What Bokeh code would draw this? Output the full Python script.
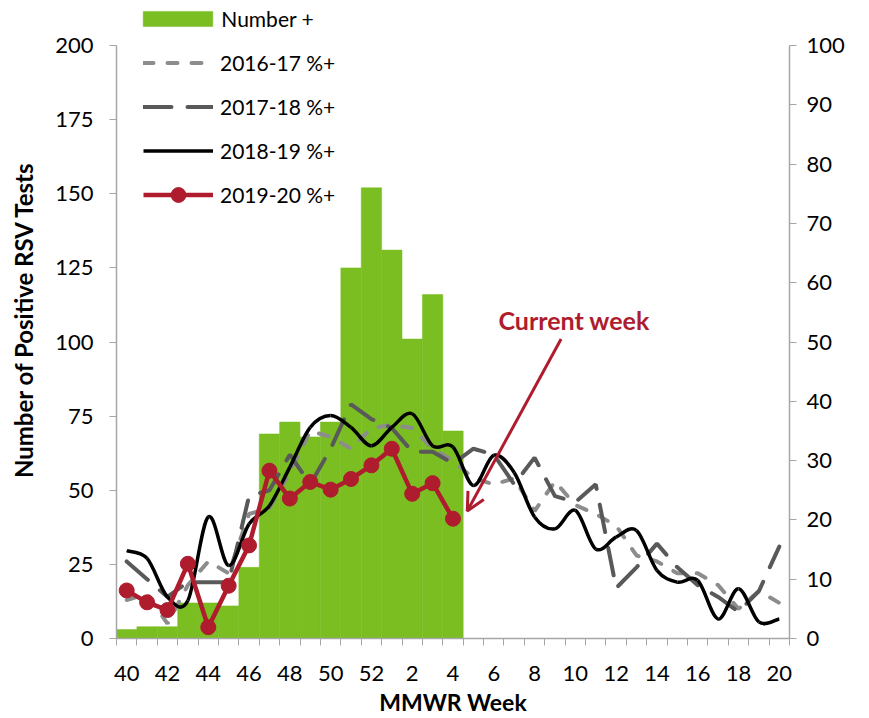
import numpy as np
from bokeh.plotting import figure
from bokeh.models import (Range1d, LinearAxis, FixedTicker, Legend, LegendItem,
                          Arrow, OpenHead, Label, ColumnDataSource)
from bokeh.embed import file_html
from bokeh.resources import INLINE

# ---------------- data ----------------
weeks = ["40", "41", "42", "43", "44", "45", "46", "47", "48", "49", "50", "51", "52",
         "1", "2", "3", "4", "5", "6", "7", "8", "9", "10", "11", "12", "13", "14",
         "15", "16", "17", "18", "19", "20"]

number_pos = [3, 4, 4, 12, 12, 11, 24, 69, 73, 68, 73, 125, 152, 131, 101, 116, 70]

pct_1617 = [6.5, 7.5, 2.5, 9, 13, 11, 21, 22, 28, 35, 34, 32, 35.5, 36, 35.5, 32, 30,
            27, 26, 27, 21.5, 26.5, 22.5, 21, 19, 14, 13, 11, 11, 9, 5, 8, 6]
pct_1718 = [13, 10, 7, 9.5, 9.5, 9.5, 24, 25, 31, 26, 32, 39.5, 37, 35.5, 31.5, 31.5, 29.5,
            32, 31, 26, 30.5, 24, 23, 26, 8.5, 12, 16, 12, 9, 7, 4.5, 8, 15.5]
pct_1819 = [14.8, 13.5, 7.0, 6.4, 20.5, 12.3, 19.3, 22.4, 28.9, 35.6, 37.6, 35.6, 32.5,
            35.6, 37.9, 32.5, 32.3, 25.8, 30.9, 28.0, 20.5, 18.5, 21.6, 15.1, 17.1, 18.2,
            11.5, 9.5, 9.8, 3.3, 8.4, 2.8, 3.3]
pct_1920 = [8.1, 6.1, 4.8, 12.6, 1.9, 8.9, 15.7, 28.3, 23.6, 26.4, 25.1, 26.9, 29.2,
            32.0, 24.4, 26.2, 20.2]

left_ticks = [0, 25, 50, 75, 100, 125, 150, 175, 200]
right_ticks = [0, 10, 20, 30, 40, 50, 60, 70, 80, 90, 100]

FONT = "Lato"
GREEN = "#7abe22"
RED = "#ae1c2e"
LIGHT = "#8c8c8c"
DARK = "#595959"
AXIS = "#a6a6a6"
TEXT = "#000000"

n = len(weeks)
x_all = list(range(n))
x_bar = list(range(len(number_pos)))
x_cur = list(range(len(pct_1920)))

# frame spans the full height down to the x axis (so the legend above the
# axis tops is not clipped); axes are bounded to their value ranges.
TOP_PAD = 45.0
FRAME_H = 638.0
left_end = 200 * FRAME_H / (FRAME_H - TOP_PAD)
right_end = 100 * FRAME_H / (FRAME_H - TOP_PAD)

p = figure(width=865, height=718, output_backend="svg", toolbar_location=None,
           x_range=Range1d(-0.5, n - 0.5), y_range=Range1d(0, left_end),
           min_border_left=116, min_border_right=76, min_border_top=0,
           min_border_bottom=80)
p.extra_y_ranges = {"pct": Range1d(0, right_end)}
p.outline_line_color = None
p.xgrid.grid_line_color = None
p.ygrid.grid_line_color = None
p.background_fill_color = "white"
p.border_fill_color = "white"

# bars
bars = p.vbar(x=x_bar, top=number_pos, width=1.0, fill_color=GREEN,
              line_color=GREEN, line_width=0.5)

# season lines (right axis)
l1617 = p.line(x_all, pct_1617, y_range_name="pct", line_color=LIGHT, line_width=4,
               line_dash="10 14", line_cap="round")
l1718 = p.line(x_all, pct_1718, y_range_name="pct", line_color=DARK, line_width=4,
               line_dash="28 16", line_cap="round")

# smoothed 2018-19 curve drawn through its points with bezier segments
xs = np.array(x_all, dtype=float)
ys = np.array(pct_1819, dtype=float)
xp = np.concatenate([[xs[0]], xs, [xs[-1]]])
yp = np.concatenate([[ys[0]], ys, [ys[-1]]])
bz = dict(x0=[], y0=[], x1=[], y1=[], cx0=[], cy0=[], cx1=[], cy1=[])
for i in range(n - 1):
    a, b, c, d = i, i + 1, i + 2, i + 3
    bz["x0"].append(xp[b]); bz["y0"].append(yp[b])
    bz["x1"].append(xp[c]); bz["y1"].append(yp[c])
    bz["cx0"].append(xp[b] + (xp[c] - xp[a]) / 6.0)
    bz["cy0"].append(yp[b] + (yp[c] - yp[a]) / 6.0)
    bz["cx1"].append(xp[c] - (xp[d] - xp[b]) / 6.0)
    bz["cy1"].append(yp[c] - (yp[d] - yp[b]) / 6.0)
l1819 = p.bezier(source=ColumnDataSource(bz), x0="x0", y0="y0", x1="x1", y1="y1",
                 cx0="cx0", cy0="cy0", cx1="cx1", cy1="cy1", y_range_name="pct",
                 line_color="black", line_width=3.5)

l1920 = p.line(x_cur, pct_1920, y_range_name="pct", line_color=RED, line_width=4.5)
s1920 = p.scatter(x_cur, pct_1920, y_range_name="pct", size=15, fill_color=RED,
                  line_color=RED)

# axes
xa = p.xaxis[0]
xa.ticker = FixedTicker(ticks=list(range(0, n, 2)),
                        minor_ticks=[i - 0.5 for i in range(n + 1)])
xa.major_label_overrides = {i: weeks[i] for i in range(0, n, 2)}
xa.major_tick_out = 0
xa.major_tick_in = 0
xa.minor_tick_out = 7
xa.minor_tick_in = 0
xa.minor_tick_line_color = AXIS
xa.axis_line_color = AXIS
xa.axis_line_width = 1.5
xa.major_label_standoff = 20
xa.major_label_text_font = FONT
xa.major_label_text_font_size = "22px"
xa.major_label_text_color = TEXT
xa.axis_label = "MMWR Week"
xa.axis_label_text_font = FONT
xa.axis_label_text_font_style = "bold"
xa.axis_label_text_font_size = "23px"
xa.axis_label_text_color = TEXT
xa.axis_label_standoff = 4

ya = p.yaxis[0]
ya.ticker = FixedTicker(ticks=left_ticks)
ya.bounds = (0, 200)
ya.minor_tick_line_color = None
ya.major_tick_out = 7
ya.major_tick_in = 0
ya.major_tick_line_color = AXIS
ya.axis_line_color = AXIS
ya.axis_line_width = 1.5
ya.major_label_standoff = 16
ya.major_label_text_font = FONT
ya.major_label_text_font_size = "22px"
ya.major_label_text_color = TEXT
ya.axis_label = "Number of Positive RSV Tests"
ya.axis_label_text_font = FONT
ya.axis_label_text_font_style = "bold"
ya.axis_label_text_font_size = "24px"
ya.axis_label_text_color = TEXT
ya.axis_label_standoff = 14

ra = LinearAxis(y_range_name="pct", ticker=FixedTicker(ticks=right_ticks), bounds=(0, 100))
ra.minor_tick_line_color = None
ra.major_tick_out = 7
ra.major_tick_in = 0
ra.major_tick_line_color = AXIS
ra.axis_line_color = AXIS
ra.axis_line_width = 1.5
ra.major_label_standoff = 10
ra.major_label_text_font = FONT
ra.major_label_text_font_size = "22px"
ra.major_label_text_color = TEXT
p.add_layout(ra, "right")

# annotation
p.add_layout(Arrow(end=OpenHead(size=18, line_color=RED, line_width=3),
                   x_start=21.3, y_start=101, x_end=16.7, y_end=43,
                   line_color=RED, line_width=3))
p.add_layout(Label(x=18.23, y=107.3, text="Current week", text_font=FONT,
                   text_font_style="bold", text_font_size="25px", text_color=RED,
                   text_baseline="middle", text_align="left"))

# legends
leg_bar = Legend(items=[LegendItem(label="Number +", renderers=[bars])],
                 location=(18.3, 607))
leg_bar.margin = 0
leg_bar.padding = 0
leg_bar.glyph_width = 87
leg_bar.glyph_height = 19
leg_bar.label_height = 19
leg_bar.label_standoff = 0
leg_bar.label_text_font = FONT
leg_bar.label_text_font_size = "21px"
leg_bar.label_text_color = TEXT
leg_bar.label_text_baseline = "middle"
leg_bar.background_fill_alpha = 0
leg_bar.border_line_color = None
p.add_layout(leg_bar, "center")

legend = Legend(items=[
    LegendItem(label="2016-17 %+", renderers=[l1617]),
    LegendItem(label="2017-18 %+", renderers=[l1718]),
    LegendItem(label="2018-19 %+", renderers=[l1819]),
    LegendItem(label="2019-20 %+", renderers=[l1920, s1920]),
], location=(27, 425))
legend.margin = 0
legend.padding = 0
legend.spacing = 7
legend.glyph_width = 70
legend.glyph_height = 37
legend.label_height = 37
legend.label_standoff = 7
legend.label_text_font = FONT
legend.label_text_font_size = "21px"
legend.label_text_color = TEXT
legend.label_text_baseline = "middle"
legend.background_fill_alpha = 0
legend.border_line_color = None
p.add_layout(legend, "center")

open("out.html", "w").write(file_html(p, INLINE))
